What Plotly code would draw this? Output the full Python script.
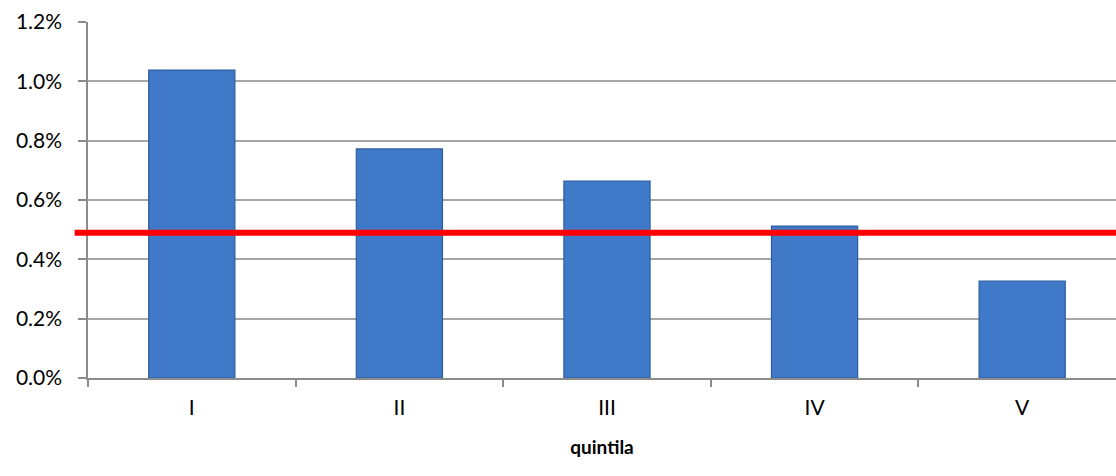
import plotly.graph_objects as go

# Quintile shares and the reference level
quintiles = ["I", "II", "III", "IV", "V"]
shares = [0.01038, 0.00772, 0.00664, 0.00512, 0.00327]
reference_level = 0.0049
y_ticks = [0.0, 0.002, 0.004, 0.006, 0.008, 0.010, 0.012]

fig = go.Figure()

fig.add_trace(go.Bar(
    x=quintiles,
    y=shares,
    width=0.415,
    marker=dict(color="#4079C8", line=dict(color="#2D5C9E", width=1.2)),
    hoverinfo="x+y",
))

# Horizontal reference line across the plot
fig.add_shape(
    type="line", xref="paper", yref="y",
    x0=-0.013, x1=1.0, y0=reference_level, y1=reference_level,
    line=dict(color="#FF0000", width=6), layer="above",
)

fig.update_layout(
    width=1116, height=476,
    margin=dict(l=88, r=0, t=22, b=98),
    paper_bgcolor="white", plot_bgcolor="white",
    showlegend=False,
    font=dict(family="Lato, Carlito, Calibri, sans-serif", size=22, color="#000000"),
    bargap=0.585,
)

fig.update_xaxes(
    type="category",
    range=[-0.5, 4.452],
    showline=True, linecolor="#8C8C8C", linewidth=1.5,
    ticks="outside", ticklen=7, tickcolor="#8C8C8C", tickwidth=1.5,
    tickson="boundaries",
    showgrid=False,
    title=dict(text="<b>quintila</b>", font=dict(size=19), standoff=23),
    tickfont=dict(size=21),
    ticklabelstandoff=10,
)

fig.update_yaxes(
    range=[0, 0.012],
    tickvals=y_ticks,
    tickformat=".1%",
    showline=True, linecolor="#8C8C8C", linewidth=1.5,
    ticks="outside", ticklen=8, tickcolor="#8C8C8C", tickwidth=1.5,
    showgrid=True, gridcolor="#A6A6A6", gridwidth=1.5,
    zeroline=False,
    tickfont=dict(size=21),
    ticklabelstandoff=12,
)

fig.write_html("out.html")
